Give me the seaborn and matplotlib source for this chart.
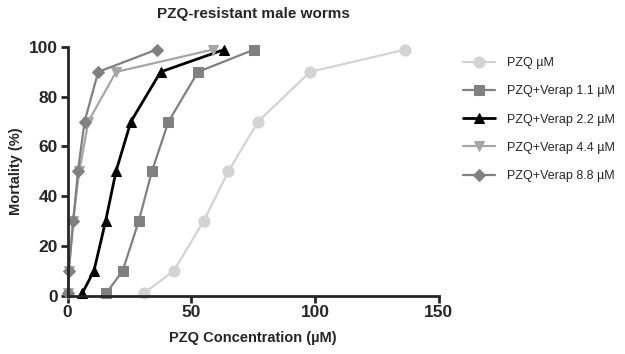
import matplotlib
matplotlib.use("Agg")
import matplotlib.pyplot as plt
import seaborn as sns
import pandas as pd

sns.set_style("ticks")
plt.rcParams['font.family'] = ['Liberation Sans', 'DejaVu Sans']

mortality = [1, 10, 30, 50, 70, 90, 99]
pzq = [31, 43, 55, 65, 77, 98, 136.5]
verap_11 = [15.7, 22.3, 28.8, 34.1, 40.8, 52.7, 75.4]
verap_22 = [6, 10.7, 15.4, 19.6, 25.6, 37.6, 63.3]
verap_44 = [0.3, 0.6, 2.1, 4.8, 8.4, 19.6, 58.8]
verap_88 = [0.1, 0.5, 2.4, 4.2, 6.9, 12.4, 36]
labels = ["PZQ µM", "PZQ+Verap 1.1 µM", "PZQ+Verap 2.2 µM", "PZQ+Verap 4.4 µM", "PZQ+Verap 8.8 µM"]

series = [pzq, verap_11, verap_22, verap_44, verap_88]
colors = ["#d3d3d3", "#808080", "#000000", "#a6a6a6", "#808080"]
markers = ["o", "s", "^", "v", "D"]
msizes = [8, 7, 7, 7, 6]

rows = []
for lab, xs in zip(labels, series):
    for x, y in zip(xs, mortality):
        rows.append({"conc": x, "mort": y, "series": lab})
df = pd.DataFrame(rows)

fig = plt.figure(figsize=(6.25, 3.54), dpi=100)
ax = fig.add_axes([0.108, 0.165, 0.594, 0.702])

for lab, c, m, ms in zip(labels, colors, markers, msizes):
    sub = df[df["series"] == lab]
    sns.lineplot(data=sub, x="conc", y="mort", ax=ax, color=c, marker=m,
                 markersize=ms, markeredgecolor=c, linewidth=2 if c == "#000000" else 1.6,
                 label=lab, sort=False, estimator=None, clip_on=False)

ax.set_xlim(0, 150)
ax.set_ylim(0, 100)
ax.set_xticks([0, 50, 100, 150])
ax.set_yticks([0, 20, 40, 60, 80, 100])
for s in ["top", "right"]:
    ax.spines[s].set_visible(False)
for s in ["left", "bottom"]:
    ax.spines[s].set_linewidth(2)
ax.tick_params(width=2, length=5, labelsize=12.5, pad=2)
for t in ax.get_xticklabels() + ax.get_yticklabels():
    t.set_fontweight("bold")
ax.set_xlabel("PZQ Concentration (µM)", fontsize=10.5, fontweight="bold", labelpad=8)
ax.set_ylabel("Mortality (%)", fontsize=10.5, fontweight="bold", labelpad=4)
ax.set_title("PZQ-resistant male worms", fontsize=11, fontweight="bold", pad=21)

ax.legend(loc="upper left", bbox_to_anchor=(1.035, 1.005), frameon=False, fontsize=9,
          handlelength=2.6, labelspacing=1.3, handletextpad=0.9)

fig.savefig("out.png", dpi=100)
